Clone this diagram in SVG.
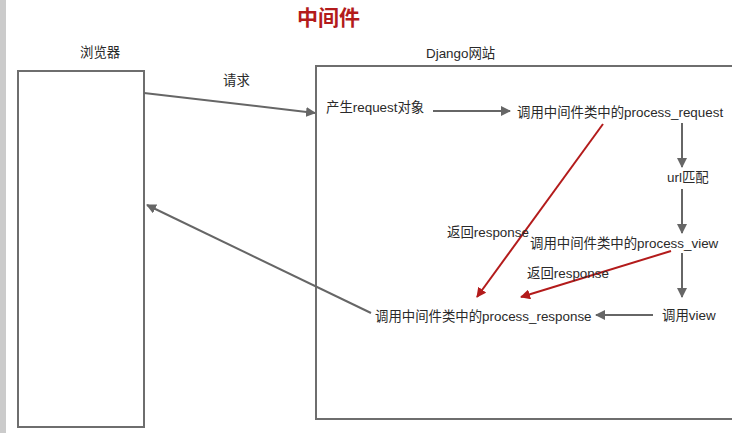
<svg xmlns="http://www.w3.org/2000/svg" width="732" height="433" viewBox="0 0 732 433">
<defs>
<style>
text{font-family:"Liberation Sans","Noto Sans CJK SC",sans-serif;font-size:13.4px;fill:#2a2a2a}
.title{font-family:"Noto Sans CJK SC",sans-serif;font-size:21px;font-weight:bold;fill:#b31b1b}
.box{fill:#fff;stroke:#6e6e6e;stroke-width:2}
.gl{stroke:#666;stroke-width:2;fill:none}
.rl{stroke:#b31b1b;stroke-width:2;fill:none}
</style>
<marker id="ag" viewBox="0 0 10 10" refX="9" refY="5" markerWidth="5" markerHeight="5" orient="auto" markerUnits="strokeWidth"><path d="M0,0L10,5L0,10z" fill="#666"/></marker>
<marker id="ar" viewBox="0 0 10 10" refX="9" refY="5" markerWidth="5" markerHeight="5" orient="auto" markerUnits="strokeWidth"><path d="M0,0L10,5L0,10z" fill="#b31b1b"/></marker>
</defs>
<rect width="732" height="433" fill="#fff"/>
<rect x="0" y="0" width="6" height="433" fill="#cbcbcb"/>
<text class="title" x="297" y="25">中间件</text>

<g id="browser">
<rect class="box" x="18" y="71" width="126" height="356"/>
<text x="80" y="57">浏览器</text>
</g>
<g id="django">
<rect class="box" x="316" y="66" width="430" height="353"/>
<text x="426" y="58">Django网站</text>
</g>
<g id="n-create"><text x="326" y="112">产生request对象</text></g>
<g id="n-preq"><text x="517" y="117">调用中间件类中的process_request</text></g>
<g id="n-url"><text x="667" y="182">url匹配</text></g>
<g id="n-pview"><text x="530" y="248">调用中间件类中的process_view</text></g>
<g id="n-view"><text x="662" y="320">调用view</text></g>
<g id="n-presp"><text x="375" y="321">调用中间件类中的process_response</text></g>

<g id="connectors">
<line class="gl" x1="144" y1="93" x2="315" y2="113" marker-end="url(#ag)"/>
<text x="223" y="85">请求</text>
<line class="gl" x1="433" y1="111" x2="510" y2="111" marker-end="url(#ag)"/>
<line class="gl" x1="682" y1="123" x2="682" y2="167" marker-end="url(#ag)"/>
<line class="gl" x1="682" y1="189" x2="682" y2="233" marker-end="url(#ag)"/>
<line class="gl" x1="682" y1="253" x2="682" y2="297" marker-end="url(#ag)"/>
<line class="gl" x1="653" y1="315" x2="596" y2="315" marker-end="url(#ag)"/>
<line class="gl" x1="371" y1="313" x2="147" y2="205" marker-end="url(#ag)"/>
<line class="rl" x1="603" y1="124" x2="477" y2="297" marker-end="url(#ar)"/>
<line class="rl" x1="671" y1="251" x2="521" y2="297" marker-end="url(#ar)"/>
<text x="447" y="237">返回response</text>
<text x="527" y="278">返回response</text>
</g>
</svg>
